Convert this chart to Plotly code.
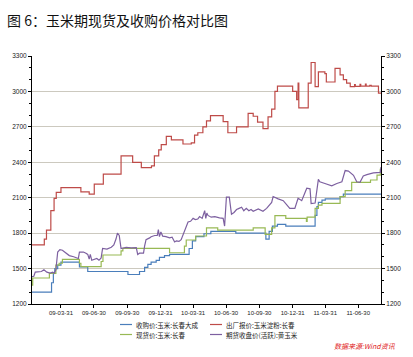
import plotly.graph_objects as go

# ---------------- data ----------------
blue_name = "收购价:玉米:长春大成"
blue_dates = ["2009-01-08", "2009-03-01", "2009-03-05", "2009-03-10", "2009-03-14", "2009-03-22",
              "2009-03-31", "2009-05-21", "2009-06-13", "2009-10-02", "2009-11-03", "2009-11-17",
              "2009-11-26", "2009-12-05", "2009-12-19", "2009-12-28", "2010-01-11", "2010-01-25",
              "2010-03-20", "2010-03-29", "2010-04-07", "2010-04-30", "2010-05-19", "2010-07-27",
              "2010-10-18", "2010-10-27", "2010-11-05", "2010-11-19", "2010-12-12", "2011-03-03",
              "2011-03-08", "2011-03-12", "2011-03-22", "2011-03-31", "2011-05-11", "2011-05-20",
              "2011-09-01"]
blue_vals = [1300, 1300, 1380, 1460, 1500, 1530,
             1555, 1515, 1475, 1450, 1475, 1510,
             1535, 1555, 1570, 1595, 1610, 1620,
             1670, 1735, 1770, 1795, 1815, 1800,
             1750, 1815, 1860, 1875, 1860, 1950,
             2025, 2060, 2080, 2090, 2110, 2130,
             2130]

red_name = "出厂报价:玉米淀粉:长春"
red_dates = ["2009-01-08", "2009-02-13", "2009-02-19", "2009-03-03", "2009-03-12", "2009-03-18",
             "2009-03-31", "2009-05-25", "2009-06-17", "2009-07-01", "2009-07-26", "2009-09-13",
             "2009-10-15", "2009-11-08", "2009-12-06", "2009-12-14", "2009-12-26", "2010-01-02",
             "2010-01-16", "2010-01-30", "2010-03-03", "2010-03-26", "2010-04-04", "2010-04-13",
             "2010-04-27", "2010-05-07", "2010-05-18", "2010-06-22", "2010-07-05", "2010-07-29",
             "2010-08-30", "2010-09-13", "2010-09-25", "2010-10-10", "2010-10-24", "2010-11-03",
             "2010-11-12", "2010-11-19", "2010-12-31", "2011-01-11", "2011-01-15", "2011-01-17",
             "2011-02-12", "2011-02-20", "2011-03-03", "2011-03-12", "2011-03-30", "2011-04-03",
             "2011-04-27", "2011-05-11", "2011-05-20", "2011-05-29", "2011-06-08", "2011-06-20",
             "2011-06-22", "2011-07-05", "2011-07-07", "2011-07-20", "2011-07-22", "2011-08-01",
             "2011-08-05", "2011-08-25", "2011-09-01"]
red_vals = [1700, 1750, 1825, 1990, 2095, 2145,
            2185, 2150, 2130, 2215, 2300, 2455,
            2400, 2355, 2370, 2455, 2505, 2550,
            2620, 2590, 2555, 2565, 2630, 2650,
            2700, 2750, 2795, 2745, 2650, 2700,
            2815, 2790, 2740, 2685, 2785, 2850,
            3000, 3045, 3000, 2930, 3070, 2860,
            3070, 3245, 3040, 3165, 3150, 3080,
            3195, 3140, 3100, 3070, 3040, 3058,
            3042, 3060, 3045, 3062, 3045, 3052,
            3045, 2985, 2985]

green_name = "现货价:玉米:长春"
green_dates = ["2009-01-08", "2009-01-12", "2009-02-27", "2009-03-17", "2009-03-26", "2009-04-04",
               "2009-05-21", "2009-05-25", "2009-07-20", "2009-07-25", "2009-09-13", "2009-09-18",
               "2010-01-25", "2010-03-07", "2010-03-12", "2010-04-07", "2010-05-07", "2010-06-07",
               "2010-09-13", "2010-10-16", "2010-11-03", "2010-11-12", "2010-12-12", "2011-02-07",
               "2011-02-09", "2011-03-03", "2011-03-12", "2011-03-22", "2011-05-11", "2011-05-25",
               "2011-06-12", "2011-08-03", "2011-08-21", "2011-08-30", "2011-09-01"]
green_vals = [1360, 1420, 1460, 1530, 1545, 1578,
              1545, 1516, 1560, 1615, 1650, 1671,
              1634, 1690, 1742, 1776, 1845, 1825,
              1845, 1790, 1845, 1948, 1925, 1900,
              1935, 2010, 2038, 2052, 2109, 2160,
              2230, 2250, 2292, 2340, 2340]

purple_name = "期货收盘价(活跃):黄玉米"
purple_dates = ["2009-01-08", "2009-01-15", "2009-01-19", "2009-02-05", "2009-02-12", "2009-02-20",
                "2009-03-01", "2009-03-08", "2009-03-12", "2009-03-17", "2009-03-22", "2009-03-28",
                "2009-04-04", "2009-04-15", "2009-04-23", "2009-05-05", "2009-05-12", "2009-05-18",
                "2009-05-21", "2009-06-01", "2009-06-08", "2009-06-13", "2009-06-17", "2009-06-20",
                "2009-06-24", "2009-07-01", "2009-07-08", "2009-07-14", "2009-07-20", "2009-07-24",
                "2009-08-05", "2009-08-17", "2009-08-24", "2009-08-30", "2009-09-03", "2009-09-08",
                "2009-09-11", "2009-09-13", "2009-09-27", "2009-10-11", "2009-10-25", "2009-10-29",
                "2009-11-03", "2009-11-14", "2009-11-17", "2009-11-21", "2009-12-01", "2009-12-05",
                "2009-12-15", "2009-12-22", "2009-12-25", "2009-12-28", "2010-01-01", "2010-01-06",
                "2010-01-15", "2010-01-25", "2010-02-01", "2010-02-08", "2010-02-13", "2010-02-20",
                "2010-02-26", "2010-03-12", "2010-03-17", "2010-03-24", "2010-03-31", "2010-04-06",
                "2010-04-13", "2010-04-18", "2010-04-25", "2010-05-02", "2010-05-05", "2010-05-08",
                "2010-05-11", "2010-05-20", "2010-05-30", "2010-06-12", "2010-06-22", "2010-06-26",
                "2010-07-01", "2010-07-09", "2010-07-15", "2010-07-22", "2010-07-29", "2010-08-05",
                "2010-08-12", "2010-08-18", "2010-08-25", "2010-09-01", "2010-09-07", "2010-09-13",
                "2010-09-20", "2010-09-27", "2010-10-10", "2010-10-20", "2010-11-03", "2010-11-07",
                "2010-11-21", "2010-12-05", "2010-12-23", "2011-01-06", "2011-01-15", "2011-01-25",
                "2011-02-08", "2011-02-17", "2011-02-20", "2011-03-03", "2011-03-12", "2011-03-16",
                "2011-03-30", "2011-04-18", "2011-05-02", "2011-05-16", "2011-05-25", "2011-06-03",
                "2011-06-17", "2011-06-26", "2011-07-05", "2011-07-14", "2011-07-24", "2011-08-11",
                "2011-08-30", "2011-09-01"]
purple_vals = [1430, 1435, 1470, 1475, 1490, 1470,
               1462, 1470, 1460, 1490, 1640, 1660,
               1655, 1630, 1610, 1600, 1590, 1585,
               1640, 1640, 1630, 1620, 1580, 1620,
               1570, 1575, 1585, 1570, 1590, 1670,
               1665, 1680, 1700, 1750, 1800, 1780,
               1700, 1670, 1680, 1675, 1678, 1620,
               1630, 1630, 1690, 1745, 1760, 1770,
               1780, 1780, 1830, 1770, 1810, 1775,
               1770, 1760, 1765, 1725, 1735, 1730,
               1745, 1855, 1895, 1900, 1925, 1915,
               1920, 1940, 1925, 1990, 1925, 1970,
               1950, 1935, 1940, 1930, 1925, 1860,
               2105, 2105, 1960, 1975, 2000, 2010,
               2020, 1990, 2010, 1990, 2000, 1985,
               1995, 2005, 1985, 2010, 2060, 2110,
               2090, 2075, 2010, 2010, 2095, 2075,
               2180, 2175, 2050, 2055, 2255, 2235,
               2220, 2200, 2220, 2235, 2330, 2325,
               2290, 2235, 2230, 2285, 2295, 2310,
               2315, 2360]

x_tick_vals = ["2009-03-31", "2009-06-30", "2009-09-30", "2009-12-31", "2010-03-31",
               "2010-06-30", "2010-09-30", "2010-12-31", "2011-03-31", "2011-06-30"]
x_tick_text = ["09-03-31", "09-06-30", "09-09-30", "09-12-31", "10-03-31",
               "10-06-30", "10-09-30", "10-12-31", "11-03-31", "11-06-30"]
y_tick_vals = [1200, 1500, 1800, 2100, 2400, 2700, 3000, 3300]
x_range = ["2009-01-10", "2011-09-01"]
y_range = [1200, 3300]

title_text = "图 6：玉米期现货及收购价格对比图"
source_text = "数据来源:Wind资讯"

# ---------------- figure ----------------
W, H = 413, 357
L, R, T, B = 32, 32, 56, 53
CJK = "Noto Sans CJK SC, Noto Sans CJK JP, sans-serif"
NUM = "Liberation Sans, Arial, sans-serif"

colors = {"blue": "#4A7EBB", "red": "#BE4B48", "green": "#98B954", "purple": "#7D60A0"}

series = [
    (blue_name, blue_dates, blue_vals, colors["blue"], "hv"),
    (red_name, red_dates, red_vals, colors["red"], "hv"),
    (green_name, green_dates, green_vals, colors["green"], "hv"),
    (purple_name, purple_dates, purple_vals, colors["purple"], "linear"),
]

fig = go.Figure()
for name, xs, ys, col, shape in [series[0], series[2], series[3], series[1]]:
    fig.add_trace(go.Scatter(x=xs, y=ys, mode="lines", name=name,
                             line=dict(color=col, width=1.2, shape=shape),
                             showlegend=False, hoverinfo="skip"))

# invisible trace to activate right axis
fig.add_trace(go.Scatter(x=[x_range[0]], y=[y_range[0]], yaxis="y2", mode="markers",
                         marker=dict(opacity=0), showlegend=False, hoverinfo="skip"))

pw = W - L - R
ph = H - T - B

def px_x(p):
    return (p - L) / pw

def px_y(p):
    return (H - B - p) / ph

shapes = []
annotations = []
legend_items = [
    (blue_name, colors["blue"], 120, 324.5),
    (red_name, colors["red"], 210, 324.5),
    (green_name, colors["green"], 120, 334.5),
    (purple_name, colors["purple"], 210, 334.5),
]
for name, col, lx, ly in legend_items:
    shapes.append(dict(type="line", xref="paper", yref="paper",
                       x0=px_x(lx), x1=px_x(lx + 12), y0=px_y(ly), y1=px_y(ly),
                       line=dict(color=col, width=1.2)))
    annotations.append(dict(text=name, xref="paper", yref="paper",
                            x=px_x(lx + 14), y=px_y(ly), xanchor="left", yanchor="middle",
                            showarrow=False, font=dict(family=CJK, size=6.5, color="#222222")))

annotations.append(dict(text="<i>" + source_text + "</i>", xref="paper", yref="paper",
                        x=px_x(398), y=px_y(346), xanchor="right", yanchor="middle",
                        showarrow=False, font=dict(family=CJK, size=7, color="#E0201A")))

fig.update_layout(
    width=W, height=H,
    margin=dict(l=L, r=R, t=T, b=B, pad=0),
    paper_bgcolor="white", plot_bgcolor="white",
    title=dict(text=title_text, x=7 / W, xref="container", xanchor="left",
               y=1 - 21 / H, yref="container", yanchor="middle",
               font=dict(family=CJK, size=14, color="#111111")),
    xaxis=dict(type="date", range=x_range, tickvals=x_tick_vals, ticktext=x_tick_text,
               showgrid=False, zeroline=False, showline=True, linecolor="#000000", linewidth=1,
               ticks="outside", ticklen=3, tickcolor="#000000", tickwidth=1,
               tickfont=dict(family=NUM, size=6, color="#222222")),
    yaxis=dict(range=y_range, tickvals=y_tick_vals, tickformat="d",
               showgrid=True, gridcolor="#CCC9BF", gridwidth=1, zeroline=False,
               showline=True, linecolor="#000000", linewidth=1,
               ticks="outside", ticklen=3, tickcolor="#000000", tickwidth=1,
               minor=dict(dtick=100, tick0=1200, ticks="outside", ticklen=2,
                          tickcolor="#000000", showgrid=False),
               tickfont=dict(family=NUM, size=6.5, color="#222222")),
    yaxis2=dict(range=y_range, tickvals=y_tick_vals, tickformat="d", overlaying="y", side="right",
                showgrid=False, zeroline=False, showline=True, linecolor="#000000", linewidth=1,
                ticks="outside", ticklen=3, tickcolor="#000000", tickwidth=1,
                minor=dict(dtick=100, tick0=1200, ticks="outside", ticklen=2,
                           tickcolor="#000000", showgrid=False),
                tickfont=dict(family=NUM, size=6.5, color="#222222")),
    shapes=shapes,
    annotations=annotations,
    showlegend=False,
)

fig.write_html("out.html",
               config={"displayModeBar": False, "staticPlot": True},
               post_script="document.body.style.margin='0';document.body.style.overflow='hidden';")
